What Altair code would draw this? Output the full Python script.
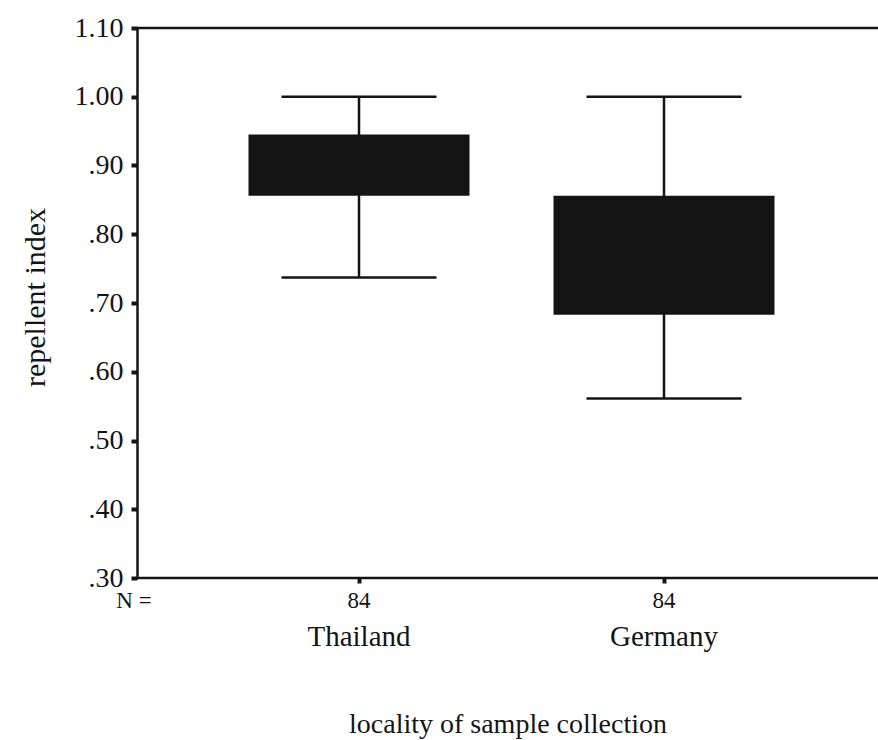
import altair as alt
import pandas as pd

# Box-plot summary per locality
localities = ["Thailand", "Germany"]
n_counts = [84, 84]
whisker_low = [0.737, 0.561]
quartile_1 = [0.856, 0.683]
quartile_3 = [0.945, 0.856]
whisker_high = [1.00, 1.00]
y_ticks = [0.3, 0.4, 0.5, 0.6, 0.7, 0.8, 0.9, 1.0, 1.1]

df = pd.DataFrame({
    "locality": localities,
    "n": [str(v) for v in n_counts],
    "low": whisker_low,
    "q1": quartile_1,
    "q3": quartile_3,
    "high": whisker_high,
})

FONT = "Liberation Serif"
INK = "#141414"
W, H = 741, 550

x_axis = alt.Axis(
    title="locality of sample collection",
    titleFont=FONT, titleFontSize=28, titleFontWeight="normal", titleColor=INK,
    titleX=W / 2, titleY=154, titleBaseline="alphabetic", titleAlign="center",
    labels=False, domain=False, tickSize=5, tickWidth=4,
    tickColor=INK, grid=False,
)

y_scale = alt.Scale(domain=[0.3, 1.1], nice=False, zero=False)
y_axis = alt.Axis(
    title="repellent index",
    titleFont=FONT, titleFontSize=30, titleFontWeight="normal", titleColor=INK,
    titleAngle=270, titleX=-93, titleY=269, titleAlign="center",
    titleBaseline="alphabetic",
    values=y_ticks,
    labelExpr="datum.value < 1 ? substring(format(datum.value, '.2f'), 1) : format(datum.value, '.2f')",
    labelFont=FONT, labelFontSize=28, labelColor=INK, labelPadding=8,
    labelBaseline="middle",
    tickSize=6, tickWidth=4, tickColor=INK,
    domainColor=INK, domainWidth=2.5, grid=False,
)

x_enc = alt.X(
    "locality:N", sort=localities,
    scale=alt.Scale(type="point", range=[222, 527], padding=0),
    axis=x_axis,
)

base = alt.Chart(df)

whiskers = base.mark_rule(color=INK, strokeWidth=2.5).encode(
    x=x_enc,
    y=alt.Y("low:Q", scale=y_scale, axis=y_axis),
    y2="high:Q",
)

caps_low = base.mark_tick(color=INK, size=155, thickness=2.5, opacity=1).encode(
    x=x_enc, y=alt.Y("low:Q", scale=y_scale, axis=y_axis)
)
caps_high = base.mark_tick(color=INK, size=155, thickness=2.5, opacity=1).encode(
    x=x_enc, y=alt.Y("high:Q", scale=y_scale, axis=y_axis)
)

boxes = base.mark_bar(color=INK, size=221, opacity=1).encode(
    x=x_enc,
    y=alt.Y("q1:Q", scale=y_scale, axis=y_axis),
    y2="q3:Q",
)

# Frame lines along the top and bottom of the plot area
frame_top = alt.Chart(pd.DataFrame({"k": [0]})).mark_rule(color=INK, strokeWidth=2.5).encode(
    x=alt.value(0), x2=alt.value(W), y=alt.value(0)
)
frame_bottom = alt.Chart(pd.DataFrame({"k": [0]})).mark_rule(color=INK, strokeWidth=2.5).encode(
    x=alt.value(0), x2=alt.value(W), y=alt.value(H)
)

n_labels = base.mark_text(font=FONT, fontSize=23, color=INK, baseline="middle").encode(
    x=x_enc, y=alt.value(573), text="n:N"
)
n_prefix = alt.Chart(pd.DataFrame({"t": ["N ="]})).mark_text(
    font=FONT, fontSize=23, color=INK, baseline="middle", align="center"
).encode(x=alt.value(-3), y=alt.value(573), text="t:N")

cat_labels = base.mark_text(font=FONT, fontSize=29, color=INK, baseline="middle").encode(
    x=x_enc, y=alt.value(609), text="locality:N"
)

chart = alt.layer(
    whiskers, caps_low, caps_high, boxes, frame_top, frame_bottom,
    n_labels, n_prefix, cat_labels,
).properties(
    width=W, height=H,
    autosize=alt.AutoSizeParams(type="none"),
    padding={"left": 137, "top": 28, "right": 0, "bottom": 162},
).configure_view(stroke=None).configure(background="white")

chart.save("out.html", embed_options={"renderer": "svg", "actions": False})
